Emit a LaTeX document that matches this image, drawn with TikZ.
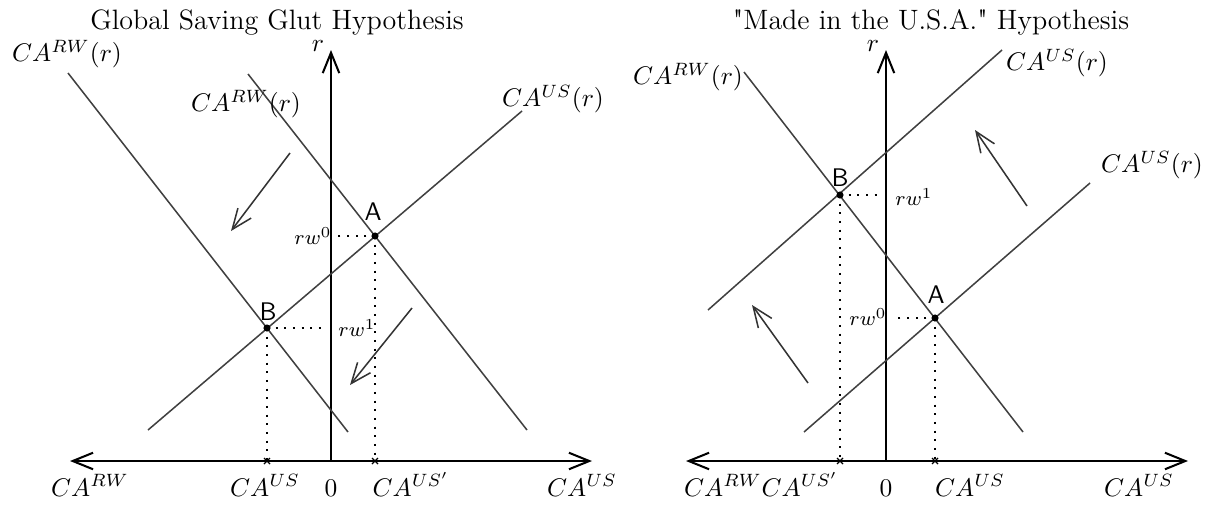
\documentclass[tikz,border=0pt]{standalone}
\usepackage{amsmath}
\usepackage{fontspec}
\usetikzlibrary{arrows.meta,calc}
\newfontfamily\qfont{lmroman10-regular.otf}[Ligatures=TeXOff]
\newcommand{\sq}{{\qfont"}}

\begin{document}
\begin{tikzpicture}[
    x=0.0138cm, y=-0.0138cm,
    >={Straight Barb[length=8pt,width=6.5pt]},
    every node/.style={inner sep=1pt},
    title/.style={font=\fontsize{11}{13}\selectfont, anchor=base},
    axis/.style={line width=0.8pt},
    curve/.style={line width=0.6pt, black!75},
    guide/.style={line width=0.8pt, dash pattern=on 0.8pt off 2.6pt},
    shiftarrow/.style={->, line width=0.6pt, black!80},
    pt/.style={circle, fill=black, inner sep=0pt, minimum size=2.8pt},
    ptlabel/.style={font=\sffamily},
    rate/.style={font=\footnotesize},
    axlabel/.style={anchor=base},
    tickmark/.style={line width=0.5pt}
  ]
    \useasboundingbox (0,0) rectangle (1205,505);

    % Left panel: saving glut
    \node[title] (title1) at (277,29) {Global Saving Glut Hypothesis};
    \coordinate (O1)    at (331,461);
    \coordinate (xl1)   at (70,461);
    \coordinate (xr1)   at (592,461);
    \coordinate (ytop1) at (331,50);
    \draw[axis,<->] (xl1) -- (xr1);
    \draw[axis,->]  (O1) -- (ytop1);
    \node (r1) at (318,46) {$r$};

    % Schedules
    \draw[curve] (148,430) -- (522,111);
    \draw[curve] (248,74)  -- (527,430);
    \draw[curve] (68,73)   -- (348,432);
    \node (rwnew1) at (67,54)   {$CA^{RW}(r)$};
    \node (rwold1) at (246,104) {$CA^{RW}(r)$};
    \node (usold1) at (553,99)  {$CA^{US}(r)$};

    % Equilibria
    \node[pt] (A1) at (375,236) {};
    \node[pt] (B1) at (267,328) {};
    \node[ptlabel] (labA1) at (373,212) {A};
    \node[ptlabel] (labB1) at (268,312) {B};
    \draw[guide] (A1.center) -- ($(O1 |- A1)+(7,0)$);
    \draw[guide] (A1.center) -- (A1 |- O1);
    \draw[guide] (B1.center) -- ($(O1 |- B1)+(-4,0)$);
    \draw[guide] (B1.center) -- (B1 |- O1);
    \foreach \p in {A1,B1}
      \draw[tickmark] (\p |- O1) +(-3,-3) -- +(3,3) +(-3,3) -- +(3,-3);
    \node[rate] (rzero1) at (313,236) {$rw^0$};
    \node[rate] (rone1)  at (357,328) {$rw^1$};

    % Shifts
    \draw[shiftarrow] (290,153) -- (231,231);
    \draw[shiftarrow] (412,308) -- (350,385);

    % Axis labels
    \node[axlabel] (rwax1)  at (90,496)  {$CA^{RW}$};
    \node[axlabel] (usB1)   at (265,496) {$CA^{US}$};
    \node[axlabel] (zero1)  at (331,496) {0};
    \node[axlabel] (usA1)   at (411,496) {$CA^{US'}$};
    \node[axlabel] (usax1)  at (582,496) {$CA^{US}$};

    % Right panel: made in the USA
    \node[title] (title2) at (931,29) {\sq Made in the U.S.A.\sq{} Hypothesis};
    \coordinate (O2)    at (886,461);
    \coordinate (xl2)   at (686,461);
    \coordinate (xr2)   at (1188,461);
    \coordinate (ytop2) at (886,50);
    \draw[axis,<->] (xl2) -- (xr2);
    \draw[axis,->]  (O2) -- (ytop2);
    \node (r2) at (873,46) {$r$};

    % Schedules
    \draw[curve] (744,72)  -- (1023,432);
    \draw[curve] (804,432) -- (1090,183);
    \draw[curve] (708,310) -- (1002,50);
    \node (rw2)    at (688,77)   {$CA^{RW}(r)$};
    \node (usnew2) at (1057,63)  {$CA^{US}(r)$};
    \node (usold2) at (1152,165) {$CA^{US}(r)$};

    % Equilibria
    \node[pt] (A2) at (935,318) {};
    \node[pt] (B2) at (840,195) {};
    \node[ptlabel] (labA2) at (936,295) {A};
    \node[ptlabel] (labB2) at (840,178) {B};
    \draw[guide] (B2.center) -- ($(O2 |- B2)+(-9,0)$);
    \draw[guide] (B2.center) -- (B2 |- O2);
    \draw[guide] (A2.center) -- ($(O2 |- A2)+(11,0)$);
    \draw[guide] (A2.center) -- (A2 |- O2);
    \foreach \p in {A2,B2}
      \draw[tickmark] (\p |- O2) +(-3,-3) -- +(3,3) +(-3,3) -- +(3,-3);
    \node[rate] (rone2)  at (914,197) {$rw^1$};
    \node[rate] (rzero2) at (868,317) {$rw^0$};

    % Shifts
    \draw[shiftarrow] (1027,206) -- (975,130);
    \draw[shiftarrow] (808,383)  -- (752,305);

    % Axis labels
    \node[axlabel] (rwax2) at (723,496)  {$CA^{RW}$};
    \node[axlabel] (usB2)  at (800,496)  {$CA^{US'}$};
    \node[axlabel] (zero2) at (886,496)  {0};
    \node[axlabel] (usA2)  at (970,496)  {$CA^{US}$};
    \node[axlabel] (usax2) at (1139,496) {$CA^{US}$};
\end{tikzpicture}
\end{document}
